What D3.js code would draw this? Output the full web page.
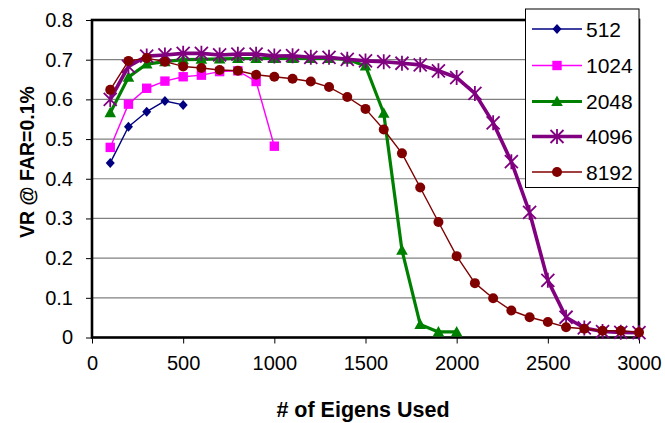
<!DOCTYPE html>
<html><head><meta charset="utf-8">
<script src="https://cdn.jsdelivr.net/npm/d3@7"></script>
<style>
html,body{margin:0;padding:0;background:#fff;}
svg{display:block;font-family:"Liberation Sans",Arial,sans-serif;}
</style></head>
<body><svg id="chart" width="665" height="423"></svg>
<script>
// ---- data ----
const eigens = [100,200,300,400,500,600,700,800,900,1000,1100,1200,1300,1400,1500,1600,1700,1800,1900,2000,2100,2200,2300,2400,2500,2600,2700,2800,2900,3000];
const seriesNames = ["512","1024","2048","4096","8192"];
const v512  = [0.440,0.531,0.569,0.596,0.586];
const v1024 = [0.479,0.588,0.628,0.646,0.657,0.661,0.670,0.672,0.645,0.482];
const v2048 = [0.566,0.656,0.689,0.695,0.700,0.701,0.702,0.703,0.703,0.703,0.703,0.703,0.703,0.701,0.684,0.565,0.220,0.033,0.014,0.014];
const v4096 = [0.600,0.683,0.709,0.712,0.716,0.716,0.712,0.714,0.714,0.709,0.710,0.706,0.706,0.701,0.697,0.695,0.691,0.687,0.672,0.655,0.615,0.541,0.443,0.315,0.144,0.051,0.024,0.015,0.013,0.012];
const v8192 = [0.624,0.697,0.704,0.695,0.683,0.679,0.674,0.672,0.662,0.657,0.652,0.645,0.631,0.606,0.576,0.524,0.464,0.378,0.291,0.205,0.137,0.099,0.068,0.051,0.039,0.026,0.022,0.017,0.017,0.013];
const xTicks = [0,500,1000,1500,2000,2500,3000];
const yTicks = [0,0.1,0.2,0.3,0.4,0.5,0.6,0.7,0.8];
const xTitle = "# of Eigens Used";
const yTitle = "VR @ FAR=0.1%";

const values = [v512,v1024,v2048,v4096,v8192];
const colors = ["#000080","#FF00FF","#008000","#800080","#800000"];
const widths = [1.4,1.4,3.2,3.6,1.4];
const markers = ["diamond","square","triangle","star","circle"];

// ---- layout ----
const svg = d3.select("#chart");
const L=92,R=639,T=20,B=337.5;
const x = d3.scaleLinear().domain([0,3000]).range([L,R]);
const y = d3.scaleLinear().domain([0,0.8]).range([B,T]);

// gridlines
svg.append("g").selectAll("line").data(yTicks.filter(d=>d>0&&d<0.8)).join("line")
  .attr("x1",L).attr("x2",R).attr("y1",d=>y(d)).attr("y2",d=>y(d))
  .attr("stroke","#808080").attr("stroke-width",1.2);

// axes
const xAxis = svg.append("g").attr("transform",`translate(0,${B})`)
  .call(d3.axisBottom(x).tickValues(xTicks).tickSize(6).tickPadding(12).tickFormat(d3.format("d")));
const yAxis = svg.append("g").attr("transform",`translate(${L},0)`)
  .call(d3.axisLeft(y).tickValues(yTicks).tickSize(6).tickPadding(13).tickFormat(d=>d===0?"0":d3.format(".1f")(d)));
[xAxis,yAxis].forEach(a=>{
  a.select(".domain").remove();
  a.selectAll(".tick line").attr("stroke","#000").attr("stroke-width",1);
  a.selectAll(".tick text").attr("font-size","20px").attr("fill","#000").attr("font-family","Liberation Sans, Arial, sans-serif");
});
xAxis.selectAll(".tick text").attr("dy","0.71em");

// frame
svg.append("rect").attr("x",L).attr("y",T).attr("width",R-L).attr("height",B-T)
  .attr("fill","none").attr("stroke","#000").attr("stroke-width",2.6);

// marker drawing
function drawMarker(g, type, cx, cy, color){
  if(type==="diamond"){
    g.append("path").attr("d",`M${cx},${cy-5}L${cx+4.5},${cy}L${cx},${cy+5}L${cx-4.5},${cy}Z`).attr("fill",color);
  } else if(type==="square"){
    g.append("rect").attr("x",cx-4.7).attr("y",cy-4.7).attr("width",9.4).attr("height",9.4).attr("fill",color);
  } else if(type==="triangle"){
    g.append("path").attr("d",`M${cx},${cy-6}L${cx+5.8},${cy+4.5}L${cx-5.8},${cy+4.5}Z`).attr("fill",color);
  } else if(type==="star"){
    const s=6.5;
    g.append("path").attr("d",`M${cx-s},${cy-s}L${cx+s},${cy+s}M${cx+s},${cy-s}L${cx-s},${cy+s}M${cx},${cy-s-1}L${cx},${cy+s+1}`)
      .attr("stroke",color).attr("stroke-width",1.8).attr("fill","none");
  } else if(type==="circle"){
    g.append("circle").attr("cx",cx).attr("cy",cy).attr("r",5).attr("fill",color);
  }
}

// series
const line = d3.line().x(d=>x(d[0])).y(d=>y(d[1]));
values.forEach((vals,i)=>{
  const pts = vals.map((v,j)=>[eigens[j],v]);
  const g = svg.append("g");
  g.append("path").datum(pts).attr("d",line).attr("fill","none")
    .attr("stroke",colors[i]).attr("stroke-width",widths[i]).attr("stroke-linejoin","round");
  pts.forEach(p=>drawMarker(g,markers[i],x(p[0]),y(p[1]),colors[i]));
});

// legend
const lg = svg.append("g");
lg.append("rect").attr("x",525.5).attr("y",9).attr("width",113.5).attr("height",178.5)
  .attr("fill","#fff").attr("stroke","#000").attr("stroke-width",1);
const rowY = [29,65.5,101.5,136.5,172];
seriesNames.forEach((n,i)=>{
  const ry=rowY[i];
  lg.append("line").attr("x1",532).attr("x2",582).attr("y1",ry).attr("y2",ry)
    .attr("stroke",colors[i]).attr("stroke-width",widths[i]);
  drawMarker(lg,markers[i],557,ry,colors[i]);
  lg.append("text").attr("x",586).attr("y",ry).attr("dy","0.36em")
    .attr("font-size","21px").attr("fill","#000").text(n);
});

// titles
svg.append("text").attr("x",363).attr("y",416.5).attr("text-anchor","middle")
  .attr("font-size","21.5px").attr("font-weight","bold").attr("fill","#000").text(xTitle);
svg.append("text").attr("transform","translate(34,162) rotate(-90)").attr("text-anchor","middle")
  .attr("font-size","19.5px").attr("font-weight","bold").attr("fill","#000").text(yTitle);
</script></body></html>
